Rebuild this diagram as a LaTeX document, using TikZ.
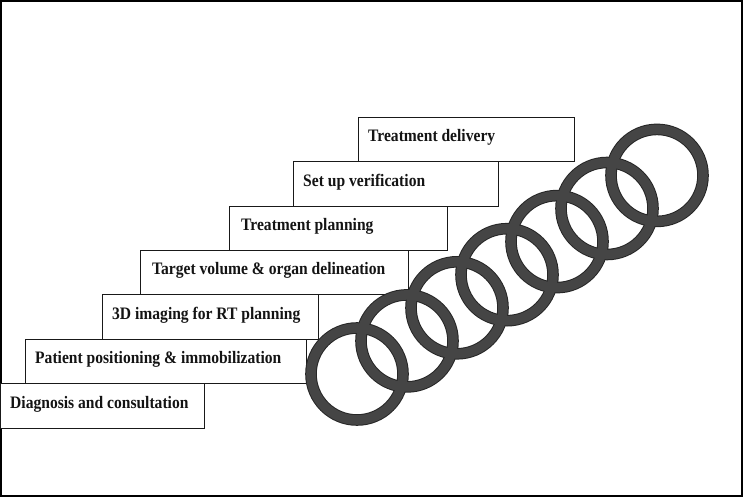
\documentclass[tikz,border=0pt]{standalone}
\usepackage{fontspec}
\setmainfont{Liberation Serif}[FakeStretch=0.89]
\begin{document}
\begin{tikzpicture}[x=1pt,y=-1pt,
  box/.style={draw=black!90, line width=1.4pt, fill=white, rectangle, inner sep=0pt, anchor=north west},
  lbl/.style={anchor=west, inner sep=0pt, font=\fontsize{17.5}{20}\selectfont\bfseries, text=black!92},
  ringedge/.style={draw=black!85, line width=11.6pt},
  ringbody/.style={draw=black!73, line width=9.6pt}]
\useasboundingbox (0,0) rectangle (743,497);
\draw[line width=2pt] (1,1) rectangle (742,496);
% boxes
\node[box, minimum width=204pt, minimum height=45pt] (b1) at (0,383) {};
\node[box, minimum width=281pt, minimum height=44pt] (b2) at (25,339) {};
\node[box, minimum width=216pt, minimum height=45pt] (b3) at (102,294) {};
\node[box, minimum width=268pt, minimum height=44pt] (b4) at (140,250) {};
\node[box, minimum width=218pt, minimum height=44pt] (b5) at (229,206) {};
\node[box, minimum width=205pt, minimum height=45pt] (b6) at (293,161) {};
\node[box, minimum width=216pt, minimum height=44pt] (b7) at (358,117) {};
\node[lbl] (t1) at ([xshift=10pt,yshift=2pt]b1.west) {Diagnosis and consultation};
\node[lbl] (t2) at ([xshift=10pt,yshift=2pt]b2.west) {Patient positioning \& immobilization};
\node[lbl] (t3) at ([xshift=10pt,yshift=2pt]b3.west) {3D imaging for RT planning};
\node[lbl] (t4) at ([xshift=12pt,yshift=2pt]b4.west) {Target volume \& organ delineation};
\node[lbl] (t5) at ([xshift=12pt,yshift=2pt]b5.west) {Treatment planning};
\node[lbl] (t6) at ([xshift=10pt,yshift=2pt]b6.west) {Set up verification};
\node[lbl] (t7) at ([xshift=10pt,yshift=2pt]b7.west) {Treatment delivery};
% rings
\foreach \i in {0,...,6} {
  \draw[ringedge] (357+50*\i, 374-33.1*\i) circle[radius=46];
}
\foreach \i in {0,...,6} {
  \draw[ringbody] (357+50*\i, 374-33.1*\i) circle[radius=46];
}
\end{tikzpicture}
\end{document}
